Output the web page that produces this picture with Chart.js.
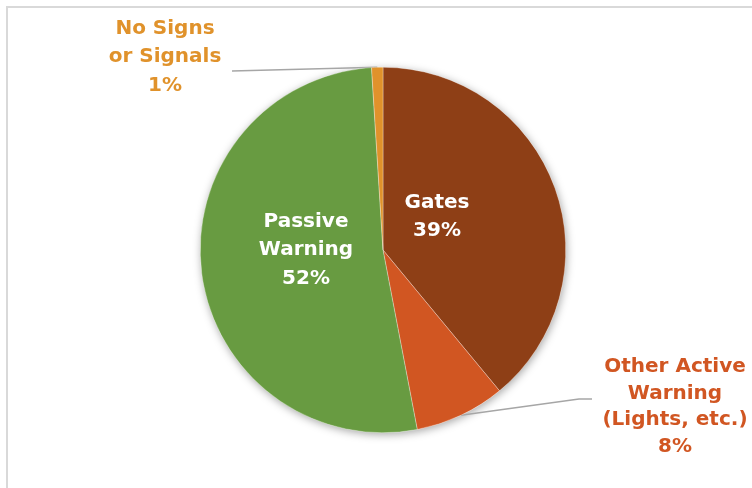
<!DOCTYPE html>
<html lang="en">

<head>
    <meta charset="UTF-8">
    <title>Crossing Warning Devices</title>
    <script src="https://cdn.jsdelivr.net/npm/chart.js"></script>
    <style>
        html, body {
            margin: 0;
            padding: 0;
            width: 752px;
            height: 488px;
            overflow: hidden;
            background: #ffffff;
        }

        /* chart frame, runs off the right and bottom edges */
        .frame {
            position: absolute;
            left: 6px;
            top: 6px;
            width: 820px;
            height: 560px;
            border: 2px solid #d9d9d9;
        }

        #pieChart {
            position: absolute;
            left: 0;
            top: 0;
        }
    </style>
</head>

<body>
    <div class="frame"></div>
    <canvas id="pieChart" width="752" height="488"></canvas>

    <script>
        // Share of crossings by warning device type (percent)
        const categories = ['Gates', 'Other Active Warning (Lights, etc.)', 'Passive Warning', 'No Signs or Signals'];
        const shares = [39, 8, 52, 1];
        const labelLines = [
            ['Gates'],
            ['Other Active', 'Warning', '(Lights, etc.)'],
            ['Passive', 'Warning'],
            ['No Signs', 'or Signals']
        ];

        const sliceColors = ['#8e3f16', '#d15622', '#689b41', '#e0922b'];

        // Label placement relative to the pie centre; outside labels get a leader line
        const labelStyle = [
            { dx: 54, dy: -33, color: '#ffffff', lineHeight: 28 },
            { dx: 292, dy: 157, color: '#d15622', lineHeight: 26.5, leader: [[209, 149], [196, 149]] },
            { dx: -77, dy: 0, color: '#ffffff', lineHeight: 28.5 },
            { dx: -218, dy: -193, color: '#e0922b', lineHeight: 28.5, leader: [[-151, -179]] }
        ];

        const FONT = 'bold 20px "DejaVu Sans", sans-serif';

        const sliceLabels = {
            id: 'sliceLabels',
            beforeDatasetsDraw(chart) {
                const ctx = chart.ctx;
                const arcs = chart.getDatasetMeta(0).data;
                const { x, y, outerRadius } = arcs[0].getProps(['x', 'y', 'outerRadius'], true);

                // soft shadow under the whole pie
                ctx.save();
                ctx.shadowColor = 'rgba(0, 0, 0, 0.35)';
                ctx.shadowBlur = 9;
                ctx.shadowOffsetX = 1;
                ctx.shadowOffsetY = 2;
                ctx.fillStyle = '#ffffff';
                ctx.beginPath();
                ctx.arc(x, y, outerRadius, 0, Math.PI * 2);
                ctx.fill();
                ctx.restore();

                // leader lines run to the middle of each slice edge, the pie covers the end
                ctx.save();
                ctx.strokeStyle = '#a6a6a6';
                ctx.lineWidth = 1.5;
                arcs.forEach((arc, i) => {
                    const style = labelStyle[i];
                    if (!style.leader) return;
                    const p = arc.getProps(['startAngle', 'endAngle'], true);
                    const mid = (p.startAngle + p.endAngle) / 2;
                    ctx.beginPath();
                    style.leader.forEach(([lx, ly], k) => {
                        if (k === 0) ctx.moveTo(x + lx, y + ly);
                        else ctx.lineTo(x + lx, y + ly);
                    });
                    ctx.lineTo(x + Math.cos(mid) * outerRadius, y + Math.sin(mid) * outerRadius);
                    ctx.stroke();
                });
                ctx.restore();
            },
            afterDatasetsDraw(chart) {
                const ctx = chart.ctx;
                const arcs = chart.getDatasetMeta(0).data;
                const { x, y } = arcs[0].getProps(['x', 'y'], true);
                ctx.save();
                ctx.font = FONT;
                ctx.textAlign = 'center';
                ctx.textBaseline = 'middle';
                shares.forEach((value, i) => {
                    const style = labelStyle[i];
                    const lines = labelLines[i].concat([value + '%']);
                    const top = y + style.dy - (lines.length - 1) * style.lineHeight / 2;
                    ctx.fillStyle = style.color;
                    lines.forEach((line, k) => {
                        ctx.fillText(line, x + style.dx, top + k * style.lineHeight);
                    });
                });
                ctx.restore();
            }
        };

        const ctx = document.getElementById('pieChart').getContext('2d');
        new Chart(ctx, {
            type: 'pie',
            data: {
                labels: categories,
                datasets: [{
                    data: shares,
                    backgroundColor: sliceColors,
                    borderColor: 'rgba(255, 255, 255, 0.6)',
                    borderWidth: 0.5
                }]
            },
            options: {
                responsive: false,
                animation: false,
                layout: {
                    padding: { left: 200, right: 186, top: 67, bottom: 55 }
                },
                plugins: {
                    legend: { display: false },
                    tooltip: { enabled: false }
                }
            },
            plugins: [sliceLabels]
        });
    </script>
</body>

</html>
